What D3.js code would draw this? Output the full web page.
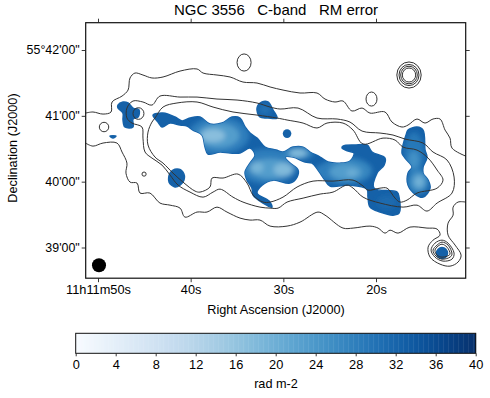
<!DOCTYPE html>
<html><head><meta charset="utf-8">
<script src="https://cdn.jsdelivr.net/npm/d3@7"></script>
<style>html,body{margin:0;padding:0;background:#fff}svg{display:block}text{font-family:"Liberation Sans",Arial,sans-serif;fill:#000}</style>
</head><body><div id="chart"></div>
<script>
// All sky positions: arcsec west of 11h11m50s, arcsec south of 55d42'00"
const raTickPos=[0,84.5,169,253.5];
const raTickLabels=["11h11m50s","40s","30s","20s"];
const decTickPos=[0,60,120,180];
const decTickLabels=["55°42'00\"","41'00\"","40'00\"","39'00\""];
const cbTicks=[0,4,8,12,16,20,24,28,32,36,40];
const contourOuterNorth=[[-11.4,57.5],[-4.6,56.5],[4.6,58.4],[11.9,56.5],[12.8,47.4],[21.9,42],[27.4,36.5],[29.2,25.5],[33.7,21],[41,22.8],[49.2,25.5],[59.3,24.6],[74.8,19.2],[90.3,17.3],[95.8,21],[108.5,22.8],[120.4,24.6],[132.2,29.2],[145,30.1],[156.9,33.7],[168.7,36.5],[184.2,39.2],[199.7,39.2],[207,44.7],[216.1,47.4],[223.4,46.5],[231.6,55.6],[240.8,52.9],[248,57.5],[261.7,56.5],[268.1,65.7],[277.2,70.2],[282.7,68.4],[290.9,62.9],[298.2,66.6],[305.5,62.9],[311.9,62.9],[316.5,73],[321,80.3],[322.8,89.4],[335.3,96.7]];
const contourOuterSouth=[[-11.4,84.8],[-4.6,87.6],[4.6,84.8],[17.3,84.8],[21.9,93],[26.4,103.1],[25.5,112.2],[29.2,120.4],[35.6,121.3],[38.3,130.4],[47.4,130.4],[56.5,139.5],[65.7,141.4],[74.8,144.1],[79.3,152.3],[90.3,147.7],[99.4,147.7],[108.5,143.2],[117.6,147.7],[129.5,153.2],[138.6,155],[147.7,155],[156.9,160.5],[172.4,160.5],[184.2,156.9],[200.6,147.7],[207,150.5],[223.4,162.3],[232.6,162.3],[248,160.5],[255.4,162.3],[261.7,166.9],[266.3,164.2],[273.6,166.9],[284.5,161.4],[300,162.3],[309.2,163.2],[311.9,168.7],[305.5,173.3],[301,179.7],[302.8,188.8],[311.9,195.2],[321,197],[328.3,193.3],[331.1,187],[325.6,177.8],[319.2,168.7],[319.2,157.8],[323.8,150.5],[323.8,143.2],[328.3,138.6],[335.3,138.6]];
const contourMid=[[56.5,42],[49.2,50.2],[41,47.4],[31.9,46.5],[26.4,52.9],[26.4,62],[31,66.6],[40.1,70.2],[41,80.3],[42.9,93],[49.2,98.5],[58.4,104.9],[65.7,114],[73,123.1],[83.9,129.5],[95.8,134.1],[104.9,129.5],[111.3,126.8],[123.1,134.1],[132.2,138.6],[147.7,143.2],[156.9,144.1],[164.2,144.1],[172.4,138.6],[187,135],[202.5,131.3],[214.3,129.5],[227.1,123.1],[232.6,125.9],[241.7,134.1],[257.2,139.5],[278.2,143.2],[290.9,141.4],[300,146.8],[309.2,139.5],[322.8,130.4],[324.7,115.8],[318.3,100.3],[305.5,93],[296.4,84.8],[280,81.2],[269,77.5],[257.2,75.7],[240.8,73.9],[229.8,65.7],[218,62.9],[199.7,62],[182.4,52.9],[166,53.8],[156.9,52],[145,48.3],[126.8,45.6],[108.5,44.7],[90.3,42.9],[74.8,42.9]];
const contourInner=[[52,62],[59.3,52],[72,48.3],[90.3,47.4],[104.9,52],[123.1,56.5],[145,59.3],[163.2,62],[172.4,63.8],[187,66.6],[199.7,71.1],[208.8,66.6],[223.4,66.6],[232.6,73],[241.7,85.7],[259.9,80.3],[270.9,82.1],[278.2,88.5],[290.9,91.2],[301,98.5],[309.2,109.4],[314.6,118.6],[309.2,125.9],[290.9,130.4],[281.8,136.8],[275.4,138.6],[270.9,135],[263.6,125.9],[257.2,125.9],[246.2,127.7],[241.7,124],[232.6,118.6],[214.3,119.5],[196.1,119.5],[181.5,124.9],[168.7,134.1],[156.9,138.6],[150.5,138.6],[141.4,132.2],[135.9,121.3],[127.7,113.1],[114,116.7],[104,116.7],[102.1,124.9],[93,129.5],[88.5,128.6],[77.5,120.4],[68.4,112.2],[59.3,103.1],[52,97.6],[45.6,86.6],[45.6,74.8],[49.2,65.7]];
const contourRingA=[[303.7,182.4],[307.3,176],[313.7,173.3],[319.2,176],[324.7,185.1],[322.8,190.6],[314.6,192.4],[307.3,188.8]];
const contourRingB=[[305.5,182.4],[309.2,177.8],[313.7,175.1],[319.2,177.8],[322.8,186],[321,188.8],[313.7,190.6],[308.3,187.9]];
const contourRingC=[[307.3,182.4],[310,178.8],[313.7,177],[318.3,179.7],[321,186],[318.3,187.9],[313.7,188.8],[309.2,187]];
// [ra, dec, radius ra, radius dec]
const contourIslands=[[133.2,11.4,6.4,7.8],[249.4,44.7,5,6.4],[283.6,22.8,11.1,11.9],[283.6,22.8,9.1,9.6],[283.6,22.8,7.6,8],[283.6,22.8,6.1,6.4],[5.5,70.2,4.3,4.3],[36.9,57.9,5,5.3],[42,113.1,1.9,1.9]];
const beam=[0.9,196.1,6.4];
const regionMain=[[50.2,59.3],[59.3,57.5],[70.2,61.1],[76.6,64.7],[83.9,62],[93,61.1],[102.1,67.5],[113.1,66.6],[122.2,61.1],[129.5,62],[134.1,70.2],[138.6,75.7],[145,80.3],[152.3,88.5],[162.3,91.2],[168.7,93],[177.8,88.5],[187,88.5],[193.3,93],[202.5,97.6],[209.8,102.1],[220.7,103.1],[229.8,101.2],[233.5,93.9],[228,92.1],[222.5,89.4],[223.4,87.6],[234.4,86.6],[245.3,86.6],[249.9,93],[261.7,98.5],[260.8,104.9],[254.4,112.2],[251.7,125.9],[272.7,129.5],[274.5,134.1],[274.5,148.7],[269,150.5],[257.2,147.7],[248.1,143.2],[246.2,134.1],[245.3,126.8],[229.8,123.1],[211.6,124],[207,118.6],[200.6,109.4],[195.2,103.1],[188.8,102.1],[177.8,97.6],[170.5,97.6],[175.1,103.1],[182.4,109.4],[181.5,115.8],[175.1,121.3],[159.6,118.6],[149.6,123.1],[145,130.4],[156,137.7],[158.7,143.2],[150.5,139.5],[141.4,132.2],[140.4,125.9],[135.9,118.6],[134.1,111.3],[138.6,103.1],[143.2,95.8],[138.6,89.4],[129.5,93.9],[120.4,93.9],[111.3,93],[100.3,94.8],[97.6,88.5],[94.8,77.5],[86.6,73],[81.2,69.3],[74.8,68.4],[65.7,66.6],[58.4,70.2],[54.7,65.7]];
const regionWest=[[18.2,50.2],[22.8,47.4],[27.4,48.3],[31.9,52.9],[37.4,54.7],[36.5,61.1],[31.9,62.9],[31.9,70.2],[24.6,70.2],[22.8,63.8],[22.8,57.5],[18.2,52.9]];
const regionSpeck=[[10.9,78.4],[16.4,78.4],[13.7,80.3]];
const regionKnot=[[65.7,112.2],[72,108.5],[77.5,111.3],[78.4,118.6],[74.8,123.1],[70.2,124.9],[64.8,120.4]];
const regionNorth=[[145,52.9],[149.6,47.4],[155,47.4],[159.6,54.7],[163.2,62],[155,62],[147.7,61.1]];
const regionEast=[[280.9,77.5],[282.7,73],[290.9,70.2],[296.4,73],[298.2,91.2],[300,97.6],[296.4,106.7],[296.4,112.2],[301,118.6],[302.8,125.9],[296.4,134.1],[289.1,131.3],[282.7,123.1],[282.7,112.2],[286.4,106.7],[280,98.5],[277.2,93.9],[278.2,86.6]];
const rmEdgeValue=32.5;
// [ra, dec, radius]
const rmSpots=[[172.4,76.2,3.9],[313.7,185.1,5.7]];
// [ra, dec, radius ra, radius dec, RM error]
const rmPatches=[[110,78,28,17,28],[155,106,27,16,28],[226,110,24,12,27],[209.8,111,12,8,28],[288.2,95,9,20,29],[292,120,10,11,27],[263.6,138.6,9,6,31],[152,54,6,5,30],[182.4,94,14,6,27],[110,78,19,11,23],[157,108,19,9,23],[226,111,15,7,23],[288,100,5,8,25],[292.7,120,6,7,22],[105,78,11,6,17],[145,107,6,5,19],[169,109,9,6,18],[182.4,94,8,4,18],[231.6,112,5,3,20],[292.7,120,3,4,19]];

const W=490,H=398;
const frame={l:85.7,r:465.7,t:22.7,b:278.2};
const x=d3.scaleLinear().domain([0,253.5]).range([98,376]);
const y=d3.scaleLinear().domain([0,180]).range([50,247.5]);
const color=d3.scaleSequential(d3.interpolateBlues).domain([0,40]);
const svg=d3.select("#chart").append("svg").attr("width",W).attr("height",H);
const defs=svg.append("defs");
defs.append("filter").attr("id","soft").attr("x","-50%").attr("y","-50%").attr("width","200%").attr("height","200%")
  .append("feGaussianBlur").attr("stdDeviation",2.8);
const regions=[regionMain,regionWest,regionSpeck,regionKnot,regionNorth,regionEast];
const poly=d3.line().x(d=>x(d[0])).y(d=>y(d[1])).curve(d3.curveCatmullRomClosed.alpha(0.5));
const rx=v=>x(v)-x(0), ry=v=>y(v)-y(0);
const clip=defs.append("clipPath").attr("id","emission");
clip.selectAll("path").data(regions).join("path").attr("d",poly);
clip.selectAll("circle").data(rmSpots).join("circle").attr("cx",d=>x(d[0])).attr("cy",d=>y(d[1])).attr("r",d=>rx(d[2]));

const map=svg.append("g");
map.selectAll("path").data(regions).join("path").attr("d",poly).attr("fill",color(rmEdgeValue)).attr("stroke",color(rmEdgeValue)).attr("stroke-width",1.5).attr("stroke-linejoin","round");
map.selectAll("circle").data(rmSpots).join("circle").attr("cx",d=>x(d[0])).attr("cy",d=>y(d[1])).attr("r",d=>rx(d[2])).attr("fill",color(rmEdgeValue));
map.append("g").attr("clip-path","url(#emission)").append("g").attr("filter","url(#soft)")
  .selectAll("ellipse").data(rmPatches).join("ellipse")
  .attr("cx",d=>x(d[0])).attr("cy",d=>y(d[1])).attr("rx",d=>rx(d[2])).attr("ry",d=>ry(d[3])).attr("fill",d=>color(d[4]));

const cg=svg.append("g").attr("fill","none").attr("stroke","#333").attr("stroke-width",1);
const open=d3.line().x(d=>x(d[0])).y(d=>y(d[1])).curve(d3.curveCatmullRom.alpha(0.5));
const closed=d3.line().x(d=>x(d[0])).y(d=>y(d[1])).curve(d3.curveCatmullRomClosed.alpha(0.5));
[contourOuterNorth,contourOuterSouth].forEach(c=>cg.append("path").attr("d",open(c)));
[contourMid,contourInner,contourRingA,contourRingB,contourRingC].forEach(c=>cg.append("path").attr("d",closed(c)));
cg.selectAll("ellipse").data(contourIslands).join("ellipse")
  .attr("cx",d=>x(d[0])).attr("cy",d=>y(d[1])).attr("rx",d=>rx(d[2])).attr("ry",d=>ry(d[3]));

svg.append("circle").attr("cx",x(beam[0])).attr("cy",y(beam[1])).attr("r",rx(beam[2])).attr("fill","#000");

// frame + axes
svg.append("rect").attr("x",frame.l).attr("y",frame.t).attr("width",frame.r-frame.l).attr("height",frame.b-frame.t)
  .attr("fill","none").attr("stroke","#111").attr("stroke-width",1.2);
function styleAxis(g,fs){g.select(".domain").remove();g.selectAll(".tick line").attr("stroke","#222").attr("stroke-width",0.9);g.selectAll("text").attr("font-size",fs||13).attr("fill","#000");}
svg.append("g").attr("transform",`translate(0,${frame.b})`)
  .call(d3.axisBottom(x).tickValues(raTickPos).tickSize(4).tickPadding(3).tickFormat((d,i)=>raTickLabels[i])).call(styleAxis,12.8);
svg.append("g").attr("transform",`translate(0,${frame.t})`)
  .call(d3.axisTop(x).tickValues(raTickPos).tickSize(4).tickFormat("")).call(styleAxis);
svg.append("g").attr("transform",`translate(${frame.l},0)`)
  .call(d3.axisLeft(y).tickValues(decTickPos).tickSize(4).tickPadding(2).tickFormat((d,i)=>decTickLabels[i])).call(styleAxis,12.4);
svg.append("g").attr("transform",`translate(${frame.r},0)`)
  .call(d3.axisRight(y).tickValues(decTickPos).tickSize(4).tickFormat("")).call(styleAxis);

svg.append("text").attr("x",276).attr("y",15).attr("text-anchor","middle").attr("font-size",15).style("white-space","pre").text("NGC 3556   C-band   RM error");
svg.append("text").attr("x",276).attr("y",314).attr("text-anchor","middle").attr("font-size",12.7).text("Right Ascension (J2000)");
svg.append("text").attr("transform","translate(17,148) rotate(-90)").attr("text-anchor","middle").attr("font-size",12.7).text("Declination (J2000)");

// colour bar
const cb=d3.scaleLinear().domain([0,40]).range([75.7,475.7]);
const cbTop=333.3,cbBot=353.3;
const cbSteps=d3.range(0,40,0.25);
svg.append("g").selectAll("rect").data(cbSteps).join("rect")
  .attr("x",d=>cb(d)).attr("y",cbTop).attr("width",d=>cb(d+0.25)-cb(d)+0.4).attr("height",cbBot-cbTop).attr("fill",d=>color(d));
svg.append("rect").attr("x",cb(0)).attr("y",cbTop).attr("width",cb(40)-cb(0)).attr("height",cbBot-cbTop).attr("fill","none").attr("stroke","#111").attr("stroke-width",1);
svg.append("g").attr("transform",`translate(0,${cbBot})`)
  .call(d3.axisBottom(cb).tickValues(cbTicks).tickSize(3).tickPadding(4).tickFormat(d3.format("d"))).call(styleAxis,12.8);
svg.append("text").attr("x",276).attr("y",388).attr("text-anchor","middle").attr("font-size",12.7).text("rad m-2");
</script></body></html>
